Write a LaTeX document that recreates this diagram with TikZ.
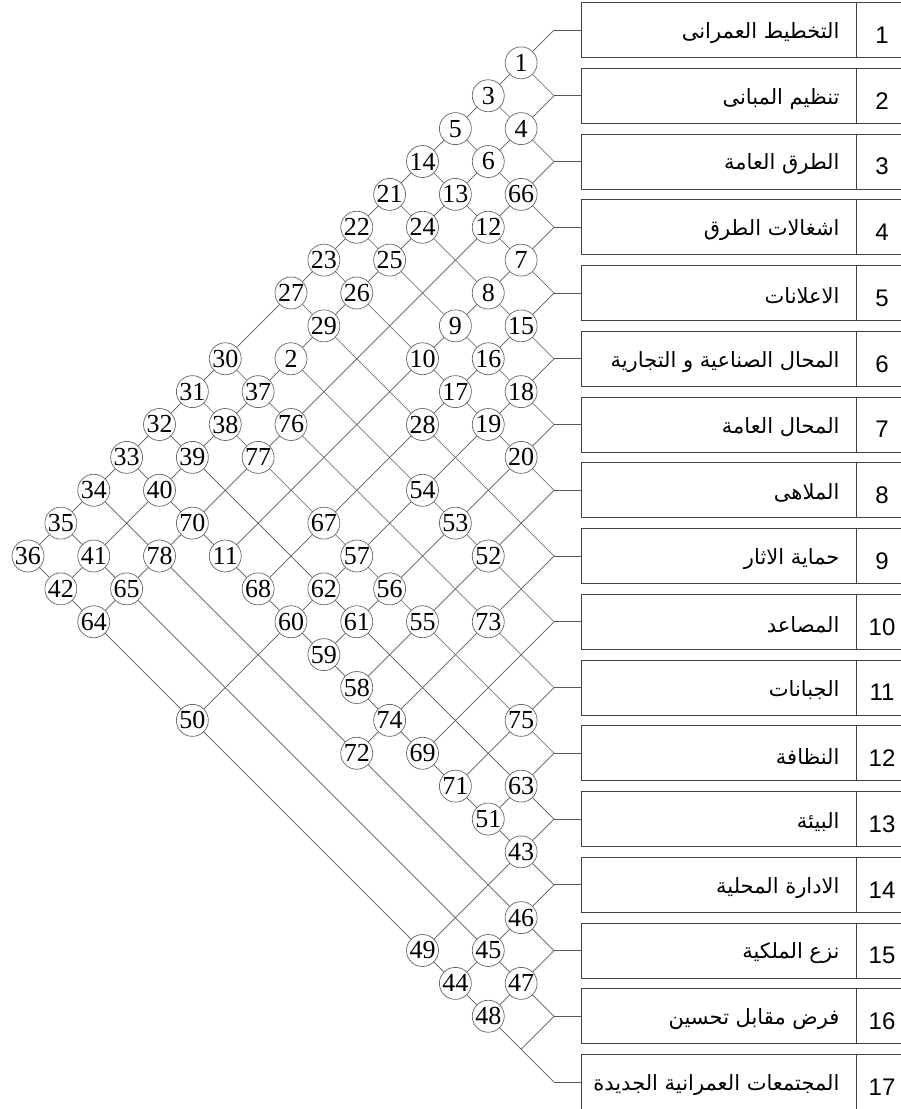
\documentclass[tikz,border=0pt]{standalone}
\usepackage{fontspec}
\setmainfont{Liberation Serif}
\newfontfamily\numfont{Liberation Sans}
\newfontfamily\arabicfont[Script=Arabic]{DejaVu Sans}
\TeXXeTstate=1

\tikzset{
  cell/.style={circle, draw=black!60, fill=white, line width=0.7pt,
    minimum size=32pt, inner sep=0pt, font=\fontsize{26}{26}\selectfont},
  link/.style={draw=black!65, line width=0.7pt},
  itembox/.style={rectangle, draw=black!75, line width=1pt,
    minimum height=55pt, minimum width=380pt, anchor=west},
}

\begin{document}
\begin{tikzpicture}[x=1pt, y=-1pt]
  \useasboundingbox (0,0) rectangle (901,1109);
  \clip (0,0) rectangle (901,1109);

  % 1. Items on the right
  \foreach \k/\txt in {1/التخطيط العمرانى, 2/تنظيم المبانى, 3/الطرق العامة,
      4/اشغالات الطرق, 5/الاعلانات, 6/المحال الصناعية و التجارية,
      7/المحال العامة, 8/الملاهى, 9/حماية الاثار, 10/المصاعد,
      11/الجبانات, 12/النظافة, 13/البيئة, 14/الادارة المحلية,
      15/نزع الملكية, 16/فرض مقابل تحسين, 17/المجتمعات العمرانية الجديدة} {
    \pgfmathsetmacro{\yk}{30+65.75*(\k-1)}
    \node[itembox] (b\k) at (581,\yk) {};
    \draw[black!75, line width=1pt] ([xshift=275pt]b\k.north west) -- ([xshift=275pt]b\k.south west);
    \node[anchor=east, font=\arabicfont\fontsize{21}{21}\selectfont] (t\k) at (843,{\yk+3}) {\beginR\txt\endR};
    \node[font=\numfont\fontsize{24}{24}\selectfont] (n\k) at (882,{\yk+5}) {\k};
    \coordinate (J\k) at (554,\yk);
    \draw[link] (b\k.west) -- (J\k);
  }

  % 2. Diagonals, each one running to the last crossing it serves
  \foreach \k/\m in {1/17, 2/17, 3/17, 4/14, 5/14, 6/17, 7/14, 8/14,
      9/15, 10/14, 11/14, 12/14, 13/17, 14/17, 15/17, 16/17} {
    \coordinate (dn\k) at ({554-32.875*(\m-\k)}, {30+32.875*(\k+\m-2)});
    \draw[link] (J\k) -- (dn\k);
  }
  \foreach \k/\m in {2/1, 3/1, 4/1, 5/1, 6/1, 7/1, 8/1, 9/1, 10/2,
      11/1, 12/1, 13/1, 14/1, 15/1, 16/1, 17/1} {
    \coordinate (up\k) at ({554-32.875*(\k-\m)}, {30+32.875*(\k+\m-2)});
    \draw[link] (J\k) -- (up\k);
  }

  % 3. Numbered crossings (number/row item/column item)
  \foreach \n/\a/\b in {1/1/2, 2/2/10, 3/1/3, 4/2/3, 5/1/4, 6/2/4, 7/4/5,
      8/4/6, 9/4/7, 10/4/8, 11/4/14, 12/3/5, 13/2/5, 14/1/5, 15/5/6,
      16/5/7, 17/5/8, 18/6/7, 19/6/8, 20/7/8, 21/1/6, 22/1/7, 23/1/8,
      24/2/6, 25/2/7, 26/2/8, 27/1/9, 28/5/9, 29/2/9, 30/1/11, 31/1/12,
      32/1/13, 33/1/14, 34/1/15, 35/1/16, 36/1/17, 37/2/11, 38/2/12,
      39/2/13, 40/2/14, 41/2/16, 42/2/17, 43/13/14, 44/14/17, 45/14/16,
      46/14/15, 47/15/16, 48/15/17, 49/13/17, 50/6/17, 51/12/14, 52/8/10,
      53/7/10, 54/6/10, 55/8/12, 56/7/12, 57/6/12, 58/8/14, 59/7/14,
      60/6/14, 61/7/13, 62/6/13, 63/12/13, 64/3/17, 65/3/16, 66/3/4,
      67/5/12, 68/5/14, 69/10/14, 70/3/14, 71/11/14, 72/9/15, 73/9/11,
      74/9/14, 75/11/12, 76/3/11, 77/3/12, 78/3/15} {
    \node[cell] (c\n) at ({554-32.875*(\b-\a)}, {30+32.875*(\a+\b-2)}) {\n};
  }
\end{tikzpicture}
\end{document}
